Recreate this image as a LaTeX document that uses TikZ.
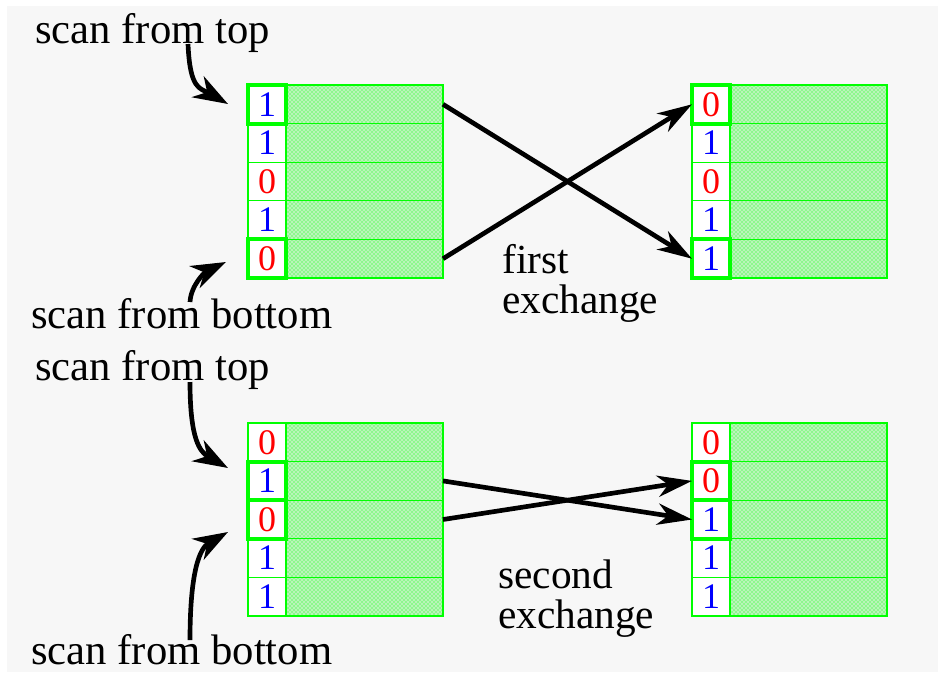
\documentclass[tikz,border=0pt]{standalone}
\usepackage{fontspec}
\setmainfont{Liberation Serif}
\usetikzlibrary{positioning,arrows.meta,patterns}

\definecolor{bggray}{RGB}{247,247,247}
\definecolor{softgreen}{RGB}{185,245,185}

\newcommand{\bitcol}[1]{\ifnum#1=0 \textcolor{red}{0}\else\textcolor{blue}{1}\fi}

\tikzset{
  keycell/.style={draw=green, line width=1pt, fill=white, outer sep=0pt, inner sep=0pt,
    minimum width=28.5pt, minimum height=28.95pt, font=\fontsize{27}{27}\selectfont},
  datacell/.style={draw=green, line width=1pt, fill=softgreen, outer sep=0pt, inner sep=0pt,
    minimum width=117.75pt, minimum height=28.95pt,
    postaction={pattern=crosshatch dots, pattern color=green}},
  hilite/.style={draw=green, line width=3pt},
  xchg/.style={-{Stealth[length=26pt,width=16pt,inset=8pt]}, line width=3.5pt},
  scanarrow/.style={-{Stealth[length=26pt,width=18pt,inset=8pt]}, line width=3.5pt},
  lbl/.style={anchor=base west, inner sep=0pt, font=\fontsize{32}{36}\selectfont},
  xlbl/.style={anchor=base west, inner sep=0pt, align=left, font=\fontsize{31}{30}\selectfont}
}

% one memory block: name, left x, top y, bits
\newcommand{\memblock}[4]{%
  \foreach \b [count=\i] in {#4} {
    \node[keycell, anchor=north west] (#1\i) at (#2, {#3+38.6*(\i-1)}) {\bitcol{\b}};
    \node[datacell, right=0pt of #1\i] (#1d\i) {};
  }%
}

\begin{document}
\begin{tikzpicture}[x=0.75pt, y=-0.75pt]
  \useasboundingbox (0,0) rectangle (938,672);
  \fill[white] (0,0) rectangle (938,672);
  \fill[bggray] (7,6) rectangle (938,672);

  % first exchange
  \memblock{tl}{248}{85}{1,1,0,1,0}
  \memblock{tr}{692}{85}{0,1,0,1,1}
  \draw[hilite] (tl1.north west) rectangle (tl1.south east);
  \draw[hilite] (tl5.north west) rectangle (tl5.south east);
  \draw[hilite] (tr1.north west) rectangle (tr1.south east);
  \draw[hilite] (tr5.north west) rectangle (tr5.south east);

  \node[lbl] (toplbl1) at (35,43) {scan from top};
  \node[lbl] (botlbl1) at (31,328) {scan from bottom};
  \coordinate (ts1) at (188,44);
  \coordinate (tt1) at (228,104);
  \coordinate (bs1) at (190,302);
  \coordinate (bt1) at (226,262);
  \draw[scanarrow] (ts1) .. controls (190,90) and (200,88) .. (tt1);
  \draw[scanarrow] (bs1) .. controls (191,285) and (205,272) .. (bt1);

  \draw[xchg] (tld1.east) -- (tr5.west);
  \draw[xchg] (tld5.east) -- (tr1.west);
  \node[xlbl] (ex1) at (502,313) {first\\exchange};

  % second exchange
  \memblock{bl}{248}{423}{0,1,0,1,1}
  \memblock{br}{692}{423}{0,0,1,1,1}
  \draw[hilite] (bl2.north west) rectangle (bl2.south east);
  \draw[hilite] (bl3.north west) rectangle (bl3.south east);
  \draw[hilite] (br2.north west) rectangle (br2.south east);
  \draw[hilite] (br3.north west) rectangle (br3.south east);

  \node[lbl] (toplbl2) at (35,380) {scan from top};
  \node[lbl] (botlbl2) at (31,664) {scan from bottom};
  \coordinate (ts2) at (190,382);
  \coordinate (tt2) at (228,468);
  \coordinate (bs2) at (190,640);
  \coordinate (bt2) at (228,532);
  \draw[scanarrow] (ts2) .. controls (190,440) and (200,452) .. (tt2);
  \draw[scanarrow] (bs2) .. controls (190,570) and (200,548) .. (bt2);

  \draw[xchg] (bld2.east) -- (br3.west);
  \draw[xchg] (bld3.east) -- (br2.west);
  \node[xlbl] (ex2) at (498,628) {second\\exchange};
\end{tikzpicture}
\end{document}
